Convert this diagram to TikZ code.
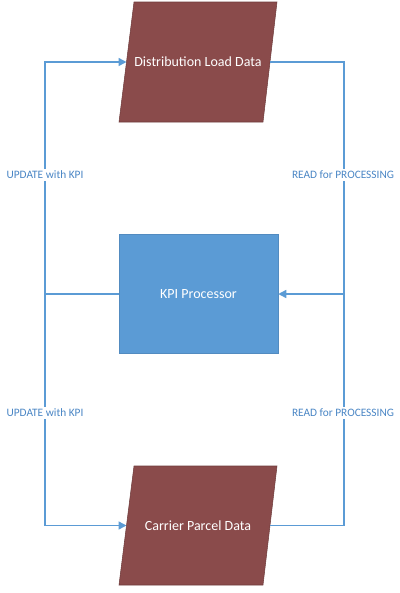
\documentclass[tikz,border=0pt]{standalone}
\usepackage{fontspec}
\setmainfont{Carlito}
\usetikzlibrary{arrows.meta}
\definecolor{maroon}{HTML}{8A4B4B}
\definecolor{boxblue}{HTML}{5B9BD5}
\definecolor{lineblue}{HTML}{5B9BD5}
\definecolor{labelblue}{HTML}{4A86C5}
\tikzset{
  datashape/.style={fill=maroon, draw=maroon!80!black, line width=0.4pt},
  proc/.style={fill=boxblue, draw=boxblue!90!black, line width=0.4pt, minimum width=119.25pt, minimum height=89.25pt, inner sep=0pt, text=white, font=\fontsize{10.5}{12}\selectfont},
  maintext/.style={text=white, font=\fontsize{10.5}{12}\selectfont},
  conn/.style={draw=lineblue, line width=1.1pt},
  arr/.style={conn, -{Triangle[length=6pt,width=6pt]}},
  lbl/.style={fill=white, text=labelblue, inner sep=1.5pt, font=\fontsize{8.5}{10}\selectfont}
}
\begin{document}
\begin{tikzpicture}[x=0.75pt,y=-0.75pt]
\useasboundingbox (0,0) rectangle (400,593);
% top data parallelogram
\draw[datashape] (134,2) -- (277,2) -- (263,122) -- (119,122) -- cycle;
\coordinate (dlL) at (126.5,62);
\coordinate (dlR) at (270,62);
\node[maintext] (dl) at (198,62) {Distribution Load Data};
% bottom data parallelogram
\draw[datashape] (134,466) -- (277,466) -- (263,585) -- (119,585) -- cycle;
\coordinate (cpL) at (126.5,525.5);
\coordinate (cpR) at (270,525.5);
\node[maintext] (cp) at (198,525.5) {Carrier Parcel Data};
% processor
\node[proc] (kpi) at (198.5,294) {KPI Processor};
% rails
\coordinate (lj) at (45,294);
\coordinate (rj) at (344,294);
% connectors
\draw[conn] (kpi.west) -- (lj);
\draw[arr] (lj) |- (dlL);
\draw[arr] (lj) |- (cpL);
\draw[conn] (dlR) -| (rj);
\draw[conn] (cpR) -| (rj);
\draw[arr] (rj) -- (kpi.east);
% labels
\node[lbl] (u1) at (45,175) {UPDATE with KPI};
\node[lbl] (u2) at (45,413) {UPDATE with KPI};
\node[lbl] (r1) at (343,175) {READ for PROCESSING};
\node[lbl] (r2) at (343,413) {READ for PROCESSING};
\end{tikzpicture}
\end{document}
